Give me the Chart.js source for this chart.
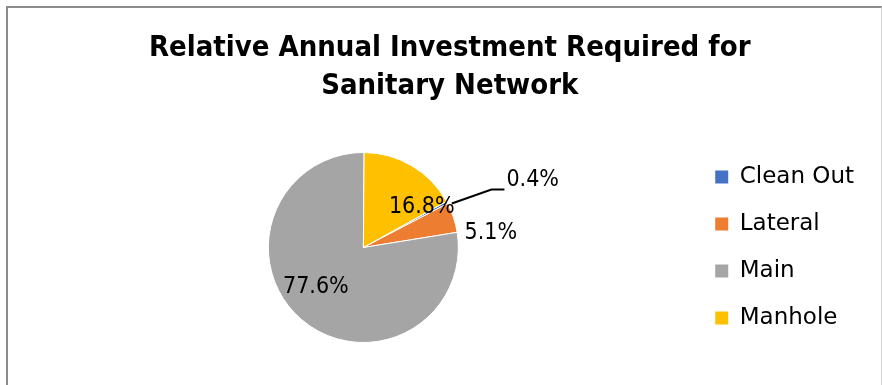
<!DOCTYPE html>
<html>
<head>
<meta charset="utf-8">
<script src="https://cdn.jsdelivr.net/npm/chart.js@4/dist/chart.umd.min.js"></script>
<style>
  html, body { margin: 0; padding: 0; background: #fff; }
  body { width: 882px; height: 385px; position: relative; overflow: hidden; }
  #frame {
    position: absolute; left: 6px; top: 6px; width: 873px; height: 420px;
    border-left: 2px solid #8c8c8c; border-top: 2px solid #8c8c8c; border-right: 1px solid #d4d4d4;
  }
  #wrap { position: absolute; left: 0; top: 0; width: 882px; height: 385px; }
</style>
</head>
<body>
<div id="frame"></div>
<div id="wrap"><canvas id="pie"></canvas></div>
<script>
// Pipe network components and their share of the annual investment (%)
const categories = ['Clean Out', 'Lateral', 'Main', 'Manhole'];
const shares = [0.4, 5.1, 77.6, 16.8];
const sliceColors = ['#4472C4', '#ED7D31', '#A5A5A5', '#FFC000'];
const titleLines = ['Relative Annual Investment Required for', 'Sanitary Network'];

// Where each percentage label sits: angle shift from the slice middle (degrees)
// and distance from the centre as a fraction of the radius.
const labelPlacement = [
  { leader: true, startShift: 1.8, startR: 1.04, elbowShift: 3.9, elbowR: 1.48, run: 13 },
  { shift: 11.9, r: 1.35 },
  { shift: 9.6, r: 0.65 },
  { shift: 24.3, r: 0.75 }
];

const pieLabels = {
  id: 'pieLabels',
  afterDatasetsDraw(chart) {
    const ctx = chart.ctx;
    const arcs = chart.getDatasetMeta(0).data;
    ctx.save();
    ctx.fillStyle = '#000';
    ctx.strokeStyle = '#000';
    ctx.font = '23px "DejaVu Sans Condensed", "DejaVu Sans", sans-serif';
    ctx.textBaseline = 'middle';
    arcs.forEach((arc, i) => {
      const { x, y, startAngle, endAngle, outerRadius } = arc.getProps(['x', 'y', 'startAngle', 'endAngle', 'outerRadius'], true);
      const mid = (startAngle + endAngle) / 2;
      const p = labelPlacement[i];
      const text = shares[i].toFixed(1) + '%';
      const rad = d => d * Math.PI / 180;
      if (p.leader) {
        const a0 = mid + rad(p.startShift), a1 = mid + rad(p.elbowShift);
        const x0 = x + Math.cos(a0) * outerRadius * p.startR;
        const y0 = y + Math.sin(a0) * outerRadius * p.startR;
        const x1 = x + Math.cos(a1) * outerRadius * p.elbowR;
        const y1 = y + Math.sin(a1) * outerRadius * p.elbowR;
        ctx.lineWidth = 2;
        ctx.beginPath();
        ctx.moveTo(x0, y0);
        ctx.lineTo(x1, y1);
        ctx.lineTo(x1 + p.run, y1);
        ctx.stroke();
        ctx.textAlign = 'left';
        ctx.fillText(text, x1 + p.run + 2, y1 - 9);
      } else {
        const a = mid + rad(p.shift);
        ctx.textAlign = 'center';
        ctx.fillText(text, x + Math.cos(a) * outerRadius * p.r, y + Math.sin(a) * outerRadius * p.r);
      }
    });
    ctx.restore();
  }
};

const defaultLegendLabels = Chart.overrides.pie.plugins.legend.labels.generateLabels;

new Chart(document.getElementById('pie'), {
  type: 'pie',
  data: {
    labels: categories,
    datasets: [{
      data: shares,
      backgroundColor: sliceColors,
      borderColor: '#ffffff',
      borderWidth: 1,
      radius: 95
    }]
  },
  plugins: [pieLabels],
  options: {
    responsive: true,
    maintainAspectRatio: false,
    animation: false,
    events: [],
    rotation: 61,
    layout: { padding: { left: 35.5, right: 18, top: 0, bottom: 22.5 } },
    plugins: {
      tooltip: { enabled: false },
      title: {
        display: true,
        text: titleLines,
        color: '#000',
        font: { family: '"DejaVu Sans Condensed", "DejaVu Sans", sans-serif', size: 29, weight: 'bold', lineHeight: 1.31 },
        padding: { top: 29.5, bottom: 27 }
      },
      legend: {
        position: 'right',
        align: 'center',
        fullSize: false,
        labels: {
          boxWidth: 13,
          boxHeight: 13,
          padding: 24,
          color: '#000',
          font: { family: '"DejaVu Sans", sans-serif', size: 23 },
          // plain filled squares, no white outline
          generateLabels: chart => defaultLegendLabels(chart).map(item => ({ ...item, lineWidth: 0 }))
        }
      }
    }
  }
});
</script>
</body>
</html>
